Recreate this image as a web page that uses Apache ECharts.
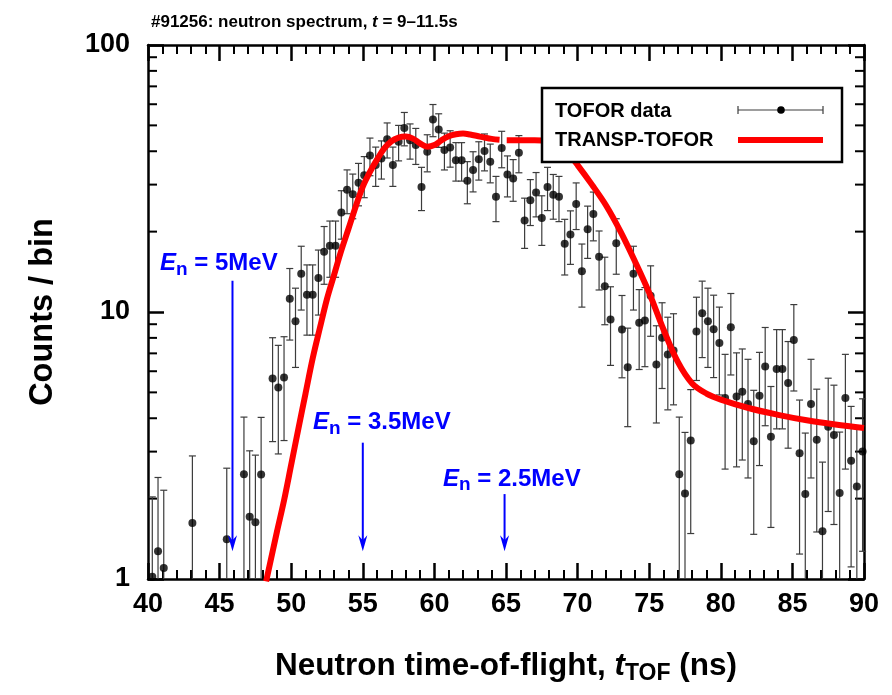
<!DOCTYPE html>
<html><head><meta charset="utf-8">
<script src="https://cdn.jsdelivr.net/npm/echarts@6/dist/echarts.min.js"></script>
<style>html,body{margin:0;padding:0;background:#fff}#c{width:892px;height:695px}</style>
</head><body><div id="c"></div>
<script>
// ---------- data ----------
const tofX = [40.3,40.7,41.1,43.1,45.5,46.7,47.1,47.5,47.9,48.7,49.1,49.5,49.9,50.3,50.7,51.1,51.5,51.9,52.3,52.7,
  53.1,53.5,53.9,54.3,54.7,55.1,55.5,55.9,56.3,56.7,57.1,57.5,57.9,58.3,58.7,59.1,59.5,59.9,60.3,60.7,
  61.1,61.5,61.9,62.3,62.7,63.1,63.5,63.9,64.3,64.7,65.1,65.5,65.9,66.3,66.7,67.1,67.5,67.9,68.3,68.7,
  69.1,69.5,69.9,70.3,70.7,71.1,71.5,71.9,72.3,72.7,73.1,73.5,73.9,74.3,74.7,75.1,75.5,75.9,76.3,76.7,
  77.1,77.5,77.9,78.3,78.7,79.1,79.5,79.9,80.3,80.7,81.1,81.5,81.9,82.3,82.7,83.1,83.5,83.9,84.3,84.7,
  85.1,85.5,85.9,86.3,86.7,87.1,87.5,87.9,88.3,88.7,89.1,89.5,89.9];
const tofY = [1.02,1.27,1.10,1.62,1.41,2.47,1.71,1.63,2.46,5.64,5.22,5.69,11.2,9.24,13.9,11.6,11.6,13.4,16.8,17.7,
  17.7,23.6,28.7,27.6,30.5,32.5,38.6,35.5,37.6,44.4,35.5,43.4,48.9,44.0,42.2,29.4,39.8,52.6,48.3,40.4,
  41.3,37.0,37.0,31.0,34.0,37.3,40.1,36.5,27.0,41.1,32.7,31.6,39.5,22.0,26.2,28.0,22.5,29.4,27.5,27.0,
  18.0,19.5,25.4,14.2,20.4,23.3,16.1,12.5,9.37,18.1,8.60,6.21,13.9,9.11,9.29,11.5,6.36,8.00,6.93,7.17,
  2.47,2.09,3.30,8.45,9.90,9.24,8.62,7.66,4.76,8.77,4.83,5.03,4.52,3.28,4.86,6.25,3.41,6.12,6.12,5.42,
  7.86,2.96,2.08,4.52,3.32,1.51,3.72,3.46,2.10,4.76,2.77,2.22,3.00];
const tofErr = [1.01,1.13,1.05,1.27,1.19,1.57,1.31,1.28,1.57,2.37,2.28,2.39,3.35,3.04,3.73,3.41,3.41,3.66,4.10,4.21,
  4.21,4.86,5.36,5.25,5.52,5.70,6.21,5.96,6.13,6.66,5.96,6.59,6.99,6.63,6.50,5.42,6.31,7.25,6.95,6.36,
  6.43,6.08,6.08,5.57,5.83,6.11,6.33,6.04,5.20,6.41,5.72,5.62,6.28,4.69,5.12,5.29,4.74,5.42,5.24,5.20,
  4.24,4.42,5.04,3.77,4.52,4.83,4.01,3.54,3.06,4.25,2.93,2.49,3.73,3.02,3.05,3.39,2.52,2.83,2.63,2.68,
  1.57,1.45,1.82,2.91,3.15,3.04,2.94,2.77,2.18,2.96,2.20,2.24,2.13,1.81,2.20,2.50,1.85,2.47,2.47,2.33,
  2.80,1.72,1.44,2.13,1.82,1.23,1.93,1.86,1.45,2.18,1.66,1.49,1.73];

const fitX = [48.25,49.0,49.5,50.0,50.5,51.0,51.5,52.0,52.5,53.0,53.5,54.0,54.5,55.0,55.5,56.0,56.5,57.0,57.5,58.0,
  58.5,59.0,59.5,60.0,60.5,61.0,61.5,62.0,62.5,63.0,63.5,64.0,64.55,64.8,65.05,66.0,67.0,68.0,68.5,69.0,
  69.5,70.0,71.0,72.0,73.0,74.0,75.0,76.0,77.0,78.0,79.0,80.0,82.0,84.0,86.0,88.0,90.0];
const fitY = [0.98,1.50,1.97,2.68,3.65,4.95,6.7,8.7,11.2,13.8,17.0,20.5,24.8,29.5,33.5,37.3,41.0,43.6,45.0,45.4,
  44.6,42.8,41.6,42.2,44.0,45.5,46.3,46.6,46.2,45.6,45.0,44.5,44.2,null,44.0,44.0,44.0,43.5,42.5,40.5,
  38.3,35.5,30.0,25.0,20.0,15.5,11.8,8.6,6.5,5.4,4.95,4.70,4.36,4.12,3.93,3.79,3.68];

const xTickLabels = ['40','45','50','55','60','65','70','75','80','85','90'];
const yTickLabels = ['1','10','100'];
const yMinorTicks = [2,3,4,5,6,7,8,9,20,30,40,50,60,70,80,90];

const annText = ['5MeV','3.5MeV','2.5MeV'];
const annArrowX = [45.9, 55.0, 64.9];
const annArrowTop = [13.1, 3.24, 2.08];
const annArrowBottom = [1.27, 1.27, 1.27];
const annLabelX = [40.84, 51.52, 60.6];
const annLabelY = [15.2, 3.85, 2.37];

// ---------- chart ----------
const F = "'Liberation Sans', Arial, Helvetica, sans-serif";
const chart = echarts.init(document.getElementById('c'), null, {renderer:'canvas'});

const xCommon = {
  type:'value', min:40, max:90, interval:5,
  axisLine:{show:true, onZero:false, lineStyle:{color:'#000', width:2.5}},
  axisTick:{show:true, inside:true, length:16, lineStyle:{color:'#000', width:2.5}},
  minorTick:{show:true, splitNumber:5, length:9, lineStyle:{color:'#000', width:2}},
  splitLine:{show:false}, minorSplitLine:{show:false}
};
const yCommon = {
  type:'log', logBase:10, min:1, max:100,
  axisLine:{show:true, onZero:false, lineStyle:{color:'#000', width:2.5}},
  axisTick:{show:true, inside:true, length:16, lineStyle:{color:'#000', width:2.5}},
  minorTick:{show:false},
  splitLine:{show:false}
};

const option = {
  animation:false,
  backgroundColor:'#fff',
  title:{
    text:'{a|#91256: neutron spectrum, }{i|t}{a| = 9\u201311.5s}',
    left:146, top:9,
    textStyle:{rich:{
      a:{fontFamily:F, fontSize:17, fontWeight:'bold', color:'#000'},
      i:{fontFamily:F, fontSize:17, fontWeight:'bold', fontStyle:'italic', color:'#000'}
    }}
  },
  grid:{left:148, right:28, top:45, bottom:116, containLabel:false, outerBoundsMode:'none'},
  xAxis:[
    Object.assign({}, xCommon, {
      position:'bottom',
      axisLabel:{show:true, fontFamily:F, fontSize:27, fontWeight:'bold', color:'#000', margin:12,
        formatter:(v)=>xTickLabels[Math.round((v-40)/5)]},
      name:'{n|Neutron time-of-flight, }{i|t}{s|TOF}{n| (ns)}',
      nameLocation:'middle', nameGap:69,
      nameTextStyle:{rich:{
        n:{fontFamily:F, fontSize:31.5, fontWeight:'bold', color:'#000'},
        i:{fontFamily:F, fontSize:31.5, fontWeight:'bold', fontStyle:'italic', color:'#000'},
        s:{fontFamily:F, fontSize:23, fontWeight:'bold', color:'#000', padding:[14,0,0,0]}
      }}
    }),
    Object.assign({}, xCommon, {position:'top', axisLabel:{show:false}})
  ],
  yAxis:[
    Object.assign({}, yCommon, {
      position:'left',
      axisLabel:{show:true, fontFamily:F, fontSize:27, fontWeight:'bold', color:'#000', margin:18,
        formatter:(v)=>yTickLabels[Math.round(Math.log10(v))]},
      name:'Counts / bin', nameLocation:'middle', nameGap:88, nameRotate:90,
      nameTextStyle:{fontFamily:F, fontSize:32.5, fontWeight:'bold', color:'#000'}
    }),
    Object.assign({}, yCommon, {position:'right', axisLabel:{show:false}})
  ],
  series:[
    { // log-scale minor ticks on both vertical frame sides
      type:'custom', name:'yminor', silent:true, z:1,
      xAxisIndex:0, yAxisIndex:0,
      data: yMinorTicks.map(v=>[65, v]),
      encode:{x:0, y:1},
      renderItem:(params, api)=>{
        const cs = params.coordSys;
        const py = api.coord([65, api.value(1)])[1];
        const st = {stroke:'#000', lineWidth:2};
        return {type:'group', children:[
          {type:'line', shape:{x1:cs.x, y1:py, x2:cs.x+9, y2:py}, style:st},
          {type:'line', shape:{x1:cs.x+cs.width-9, y1:py, x2:cs.x+cs.width, y2:py}, style:st}
        ]};
      }
    },
    { // error bars
      type:'custom', name:'TOFOR errors', silent:true, z:3,
      xAxisIndex:0, yAxisIndex:0,
      data: tofX.map((x,i)=>[x, tofY[i], tofErr[i]]),
      encode:{x:0, y:1},
      renderItem:(params, api)=>{
        const cs = params.coordSys;
        const x = api.value(0), y = api.value(1), e = api.value(2);
        const top = api.coord([x, y+e]);
        const px = top[0];
        let ytop = top[1], topCap = true;
        if (ytop < cs.y) { ytop = cs.y; topCap = false; }
        const lo = y - e;
        let ybot = cs.y + cs.height, botCap = false;
        if (lo > 0) {
          const b = api.coord([x, lo])[1];
          if (b <= cs.y + cs.height) { ybot = b; botCap = true; }
        }
        const st = {stroke:'#3c3c3c', lineWidth:1.2};
        const ch = [{type:'line', shape:{x1:px, y1:ytop, x2:px, y2:ybot}, style:st}];
        if (topCap) ch.push({type:'line', shape:{x1:px-3.5, y1:ytop, x2:px+3.5, y2:ytop}, style:st});
        if (botCap) ch.push({type:'line', shape:{x1:px-3.5, y1:ybot, x2:px+3.5, y2:ybot}, style:st});
        return {type:'group', children:ch};
      }
    },
    {
      type:'scatter', name:'TOFOR data', z:4,
      xAxisIndex:0, yAxisIndex:0,
      data: tofX.map((x,i)=>[x, tofY[i]]),
      symbol:'circle', symbolSize:8,
      itemStyle:{color:'#000'}
    },
    {
      type:'line', name:'TRANSP-TOFOR', z:5,
      xAxisIndex:0, yAxisIndex:0,
      data: fitX.map((x,i)=>[x, fitY[i]===null ? '-' : fitY[i]]),
      showSymbol:false, symbol:'none', smooth:0.35, connectNulls:false,
      lineStyle:{color:'#ff0000', width:6}, itemStyle:{color:'#ff0000'},
      clip:true
    },
    { // energy annotations
      type:'custom', name:'annotations', silent:true, z:6,
      xAxisIndex:0, yAxisIndex:0,
      data: annText.map((t,i)=>[annArrowX[i], annArrowTop[i], annArrowBottom[i], annLabelX[i], annLabelY[i], i]),
      encode:{x:0, y:1},
      renderItem:(params, api)=>{
        const i = api.value(5);
        const a = api.coord([api.value(0), api.value(1)]);
        const b = api.coord([api.value(0), api.value(2)]);
        const l = api.coord([api.value(3), api.value(4)]);
        const col = '#0000ff';
        return {type:'group', children:[
          {type:'line', shape:{x1:a[0], y1:a[1], x2:b[0], y2:b[1]-8}, style:{stroke:col, lineWidth:2}},
          {type:'polygon', shape:{points:[[b[0],b[1]],[b[0]-4.5,b[1]-16],[b[0],b[1]-11],[b[0]+4.5,b[1]-16]]}, style:{fill:col}},
          {type:'text', x:l[0], y:l[1], style:{
            text:'{e|E}{s|n}{t| = '+annText[i]+'}',
            align:'left', verticalAlign:'middle',
            rich:{
              e:{fontFamily:F, fontSize:24, fontWeight:'bold', fontStyle:'italic', fill:col, color:col},
              s:{fontFamily:F, fontSize:19, fontWeight:'bold', fill:col, color:col, padding:[12,0,0,0]},
              t:{fontFamily:F, fontSize:24, fontWeight:'bold', fill:col, color:col}
            }
          }}
        ]};
      }
    }
  ],
  graphic:[
    {type:'rect', z:100, shape:{x:542, y:88, width:300, height:74}, style:{fill:'#fff', stroke:'#000', lineWidth:2.5}},
    {type:'text', z:101, x:555, y:111, style:{text:'TOFOR data', font:'bold 20px '+F, fill:'#000', verticalAlign:'middle'}},
    {type:'text', z:101, x:555, y:140, style:{text:'TRANSP-TOFOR', font:'bold 20px '+F, fill:'#000', verticalAlign:'middle'}},
    {type:'line', z:101, shape:{x1:738, y1:110, x2:823, y2:110}, style:{stroke:'#3c3c3c', lineWidth:1.2}},
    {type:'line', z:101, shape:{x1:738, y1:106, x2:738, y2:114}, style:{stroke:'#3c3c3c', lineWidth:1.2}},
    {type:'line', z:101, shape:{x1:823, y1:106, x2:823, y2:114}, style:{stroke:'#3c3c3c', lineWidth:1.2}},
    {type:'circle', z:102, shape:{cx:781, cy:110, r:3.8}, style:{fill:'#000'}},
    {type:'line', z:101, shape:{x1:738, y1:140, x2:823, y2:140}, style:{stroke:'#ff0000', lineWidth:6}}
  ]
};
chart.setOption(option);
</script>
</body></html>
